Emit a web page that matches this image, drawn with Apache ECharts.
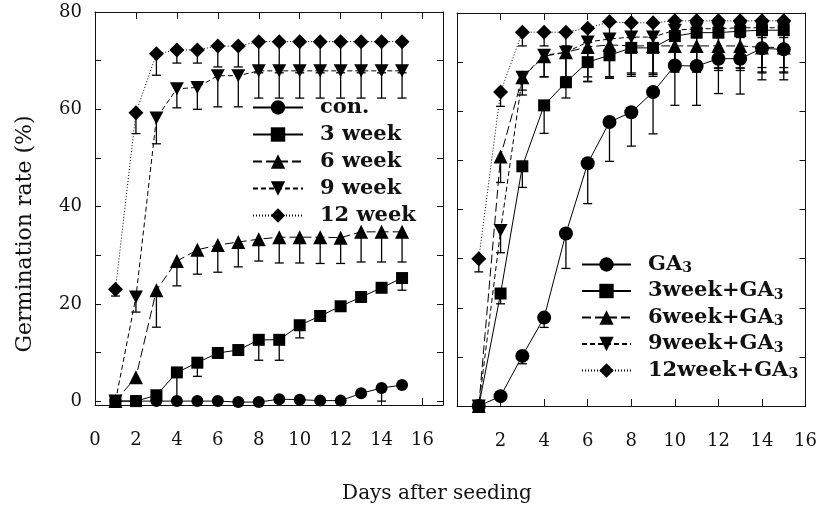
<!DOCTYPE html>
<html>
<head>
<meta charset="utf-8">
<script src="https://cdn.jsdelivr.net/npm/echarts@6/dist/echarts.min.js"></script>
<style>
  html, body { margin: 0; padding: 0; background: #fff; }
  #chart { width: 820px; height: 509px; }
</style>
</head>
<body>
<div id="chart"></div>
<script>
// days after seeding
const days = [1, 2, 3, 4, 5, 6, 7, 8, 9, 10, 11, 12, 13, 14, 15];
const xTicks = [0, 2, 4, 6, 8, 10, 12, 14, 16];
const xTicksRight = [2, 4, 6, 8, 10, 12, 14, 16];
const yTicks = [0, 10, 20, 30, 40, 50, 60, 70, 80];
const yLabels = [0, 20, 40, 60, 80];

// left panel: mean and lower end of error bar (null = no bar)
const con   = [0, 0, 0, 0, 0, 0, -0.2, -0.2, 0.4, 0.3, 0.1, 0.1, 1.6, 2.7, 3.3];
const conLo = [null, null, null, null, null, null, null, null, null, null, null, null, null, 0, null];
const w3    = [0, 0, 1.2, 5.9, 7.9, 9.9, 10.5, 12.6, 12.6, 15.6, 17.5, 19.5, 21.4, 23.3, 25.3];
const w3Lo  = [null, null, null, 0, 5.1, null, null, 8.4, 8.4, 13.0, null, null, null, null, 22.8];
const w6    = [0, 4.9, 22.8, 28.8, 31.1, 32.1, 32.7, 33.3, 33.7, 33.7, 33.7, 33.6, 34.8, 34.8, 34.8];
const w6Lo  = [null, null, 15.2, 23.7, 26.1, 26.5, 27.6, 28.8, 28.4, 28.4, 28.3, 28.3, 28.6, 28.6, 28.6];
const w9    = [0, 21.4, 58.2, 64.2, 64.5, 66.9, 66.9, 67.9, 67.9, 67.9, 67.9, 67.9, 67.9, 67.9, 67.9];
const w9Lo  = [null, 18.3, 52.9, 60.3, 60.0, 60.5, 60.5, 62.3, 62.3, 62.3, 62.3, 62.3, 62.3, 62.3, 62.3];
const w12   = [23.0, 59.3, 71.4, 72.2, 72.2, 73.0, 73.0, 73.9, 73.9, 73.9, 73.9, 73.9, 73.9, 73.9, 73.9];
const w12Lo = [21.6, 55.0, 67.0, 69.5, 69.5, 68.7, 68.7, 67.5, 67.5, 67.5, 67.5, 67.5, 67.5, 67.5, 67.5];

// right panel (with GA3)
const ga     = [0, 2.0, 10.2, 18.0, 35.1, 49.4, 57.8, 59.8, 63.9, 69.3, 69.2, 70.7, 70.7, 72.8, 72.6];
const gaLo   = [null, null, 8.6, 16.0, 28.0, 41.2, 49.8, 52.9, 55.4, 61.2, 61.2, 63.6, 63.5, 66.4, 66.4];
const w3g    = [0, 22.9, 48.8, 61.2, 65.9, 70.0, 71.4, 72.9, 72.9, 75.3, 76.0, 76.0, 76.3, 76.5, 76.5];
const w3gLo  = [null, 20.8, 44.5, 55.5, 62.7, 66.1, 66.7, 67.1, 67.1, 68.4, 68.4, 68.8, 68.8, 68.9, 68.9];
const w6g    = [0, 50.8, 66.9, 71.2, 72.0, 73.1, 73.5, 73.3, 73.3, 73.3, 73.3, 73.3, 73.3, 73.0, 73.0];
const w6gLo  = [null, 45.5, 64.3, 67.0, 67.0, 67.0, 67.0, 67.8, 67.8, 68.0, 68.0, 68.3, 68.3, 67.8, 67.8];
const w9g    = [0, 35.7, 66.9, 71.4, 72.0, 74.1, 74.7, 75.1, 75.1, 76.5, 76.8, 76.8, 77.0, 77.0, 77.0];
const w9gLo  = [null, 31.2, 63.3, 67.0, 66.0, 66.0, 67.0, 67.5, 67.5, 68.0, 68.0, 68.8, 68.8, 68.0, 68.0];
const w12g   = [30.0, 63.9, 76.1, 76.1, 76.1, 76.9, 78.2, 78.0, 78.0, 78.4, 78.4, 78.4, 78.4, 78.4, 78.4];
const w12gLo = [27.3, 61.0, 73.3, 73.3, 73.3, 74.0, 75.0, 75.0, 75.0, 75.0, 75.0, 75.0, 75.0, 75.0, 75.0];

const font = 'DejaVu Serif';
const ink = '#111';

let chart = echarts.init(document.getElementById('chart'));

function xAxis(grid, pos, labels, ticks, max) {
    return {
        type: 'value', gridIndex: grid, position: pos, min: 0, max: max,
        axisLine: { show: true, onZero: false, lineStyle: { color: ink, width: 1 } },
        axisTick: { show: true, inside: true, length: 7, customValues: ticks, lineStyle: { color: ink } },
        axisLabel: { show: !!labels, customValues: labels || [], margin: 26, color: ink, fontFamily: font, fontSize: 18 },
        splitLine: { show: false }
    }
}
function yAxis(grid, pos, labels, min) {
    return {
        type: 'value', gridIndex: grid, position: pos, min: min, max: 80,
        axisLine: { show: true, onZero: false, lineStyle: { color: ink, width: 1 } },
        axisTick: { show: true, inside: true, length: 6, customValues: yTicks, lineStyle: { color: ink } },
        axisLabel: { show: !!labels, customValues: labels || [], margin: 13, color: ink, fontFamily: font, fontSize: 18 },
        splitLine: { show: false }
    }
}

function line(name, data, idx, symbol, size, dash) {
    return {
        name, type: 'line', xAxisIndex: idx, yAxisIndex: idx,
        data: days.map((d, i) => [d, data[i]]),
        symbol, symbolSize: size, z: 3,
        itemStyle: { color: '#000' },
        lineStyle: { color: '#000', width: 1, type: dash },
        emphasis: { disabled: true }
    }
}

// lower error bars with a cap
function err(data, lo, idx) {
    return {
        type: 'custom', xAxisIndex: idx, yAxisIndex: idx, silent: true, z: 2,
        data: days.map((d, i) => [d, data[i], lo[i]]).filter(r => r[2] !== null),
        renderItem (params, api) {
            let top = api.coord([api.value(0), api.value(1)]);
            let bot = api.coord([api.value(0), api.value(2)]);
            let st = { stroke: '#000', lineWidth: 1.3 };
            return { type: 'group', children: [
                { type: 'line', shape: { x1: top[0], y1: top[1], x2: bot[0], y2: bot[1] }, style: st },
                { type: 'line', shape: { x1: bot[0] - 4.5, y1: bot[1], x2: bot[0] + 4.5, y2: bot[1] }, style: st }
            ] };
        }
    }
}

let legendText = {
    fontFamily: font, fontSize: 21, fontWeight: 'bold', color: ink, lineHeight: 21,
    padding: [0, 0, 0, 12],
    rich: { s: { fontFamily: font, fontSize: 14, fontWeight: 'bold', color: ink, padding: [8, 0, 0, 0] } }
};

chart.setOption({
    animation: false,
    textStyle: { fontFamily: font },
    grid: [
        { left: 95, top: 12, width: 348, height: 393 },
        { left: 457, top: 13, width: 351, height: 393 }
    ],
    xAxis: [
        xAxis(0, 'bottom', xTicks, xTicks, 17),
        xAxis(1, 'bottom', xTicksRight, xTicksRight, 16),
        xAxis(0, 'top', null, xTicks.slice(1), 17),
        xAxis(1, 'top', null, xTicksRight, 16)
    ],
    yAxis: [
        yAxis(0, 'left', yLabels, -0.8),
        yAxis(1, 'left', null, 0),
        yAxis(0, 'right', null, -0.8),
        yAxis(1, 'right', null, 0)
    ],
    legend: [
        {
            data: ['con.', '3 week', '6 week', '9 week', '12 week'],
            orient: 'vertical', left: 252, top: 97, padding: 0,
            itemWidth: 50, itemHeight: 18, itemGap: 6,
            textStyle: legendText, selectedMode: false
        },
        {
            data: ['GA3', '3week+GA3', '6week+GA3', '9week+GA3', '12week+GA3'],
            orient: 'vertical', left: 581, top: 254, padding: 0,
            itemWidth: 49, itemHeight: 18, itemGap: 5,
            formatter: n => n.replace('GA3', 'GA{s|3}'),
            textStyle: legendText, selectedMode: false
        }
    ],
    graphic: [
        {
            type: 'text', x: 437, y: 494,
            style: { text: 'Days after seeding', font: '20px "DejaVu Serif"', fill: ink, align: 'center', verticalAlign: 'middle' }
        },
        {
            type: 'text', x: 25, y: 234, rotation: Math.PI / 2,
            style: { text: 'Germination rate (%)', font: '22px "DejaVu Serif"', fill: ink, align: 'center', verticalAlign: 'middle' }
        }
    ],
    series: [
        err(con, conLo, 0), err(w3, w3Lo, 0), err(w6, w6Lo, 0), err(w9, w9Lo, 0), err(w12, w12Lo, 0),
        line('con.', con, 0, 'circle', 12, 'solid'),
        line('3 week', w3, 0, 'rect', 12, 'solid'),
        line('6 week', w6, 0, 'triangle', 14, [9, 4]),
        line('9 week', w9, 0, 'path://M0,0 L10,0 L5,9 Z', [14, 13], [5, 3]),
        line('12 week', w12, 0, 'diamond', 15, [1, 2]),

        err(ga, gaLo, 1), err(w3g, w3gLo, 1), err(w6g, w6gLo, 1), err(w9g, w9gLo, 1), err(w12g, w12gLo, 1),
        line('GA3', ga, 1, 'circle', 14, 'solid'),
        line('3week+GA3', w3g, 1, 'rect', 12, 'solid'),
        line('6week+GA3', w6g, 1, 'triangle', 14, [9, 4]),
        line('9week+GA3', w9g, 1, 'path://M0,0 L10,0 L5,9 Z', [14, 13], [5, 3]),
        line('12week+GA3', w12g, 1, 'diamond', 15, [1, 2])
    ]
});
</script>
</body>
</html>
